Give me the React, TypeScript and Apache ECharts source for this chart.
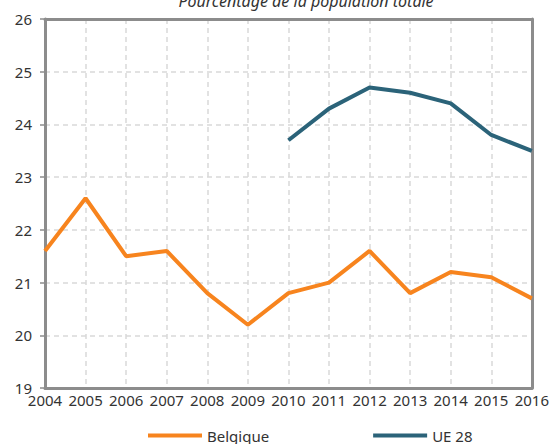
import React, { useEffect, useRef } from "react";
import * as echarts from "echarts";

const years = ["2004","2005","2006","2007","2008","2009","2010","2011","2012","2013","2014","2015","2016"];
const belgique = [21.6, 22.6, 21.5, 21.6, 20.8, 20.2, 20.8, 21.0, 21.6, 20.8, 21.2, 21.1, 20.7];
const ue28 = [null, null, null, null, null, null, 23.7, 24.3, 24.7, 24.6, 24.4, 23.8, 23.5];
const titleText = "Pourcentage de la population totale";
const FONT = "'Noto Sans', sans-serif";
const AXIS_GREY = "#8c8c8c";
const GRID_GREY = "#d9d9d9";

export default function App() {
  const ref = useRef<HTMLDivElement>(null);
  useEffect(() => {
    const chart = echarts.init(ref.current!, null, { renderer: "svg" });
    const split = { show: true, lineStyle: { color: GRID_GREY, type: [5, 4], width: 1.5 } };
    chart.setOption({
      animation: false,
      textStyle: { fontFamily: FONT },
      graphic: [
        {
          type: "text",
          x: 306,
          y: 1,
          style: {
            text: titleText,
            fontFamily: FONT,
            fontSize: 16,
            fontStyle: "italic",
            fill: "#333",
            textAlign: "center",
            textVerticalAlign: "middle",
          },
        },
      ],
      grid: {
        left: 45,
        right: 16,
        top: 19,
        bottom: 56,
        show: false,
        containLabel: false,
      },
      legend: {
        left: 148,
        top: 428,
        padding: 0,
        itemWidth: 54,
        itemHeight: 4,
        itemGap: 104,
        icon: "rect",
        textStyle: { fontFamily: FONT, fontSize: 15, color: "#333" },
        data: ["Belgique", "UE 28"],
      },
      xAxis: [
        {
          type: "category",
          data: years,
          boundaryGap: false,
          axisLine: { show: true, lineStyle: { color: AXIS_GREY, width: 3 } },
          axisTick: { show: false },
          axisLabel: { color: "#333", fontSize: 15, fontFamily: FONT, margin: 4, interval: 0 },
          splitLine: split,
        },
        {
          type: "category",
          data: years,
          position: "top",
          boundaryGap: false,
          axisLine: { show: true, lineStyle: { color: AXIS_GREY, width: 3 } },
          axisTick: { show: false },
          axisLabel: { show: false },
          splitLine: { show: false },
        },
      ],
      yAxis: [
        {
          type: "value",
          min: 19,
          max: 26,
          interval: 1,
          axisLine: { show: true, lineStyle: { color: AXIS_GREY, width: 3 } },
          axisTick: { show: true, length: 5, lineStyle: { color: AXIS_GREY, width: 1.5 } },
          axisLabel: { color: "#333", fontSize: 15, fontFamily: FONT, margin: 13 },
          splitLine: split,
        },
        {
          type: "value",
          min: 19,
          max: 26,
          interval: 1,
          position: "right",
          axisLine: { show: true, lineStyle: { color: AXIS_GREY, width: 3 } },
          axisTick: { show: false },
          axisLabel: { show: false },
          splitLine: { show: false },
        },
      ],
      series: [
        {
          name: "Belgique",
          type: "line",
          data: belgique,
          symbol: "none",
          color: "#F7841E",
          lineStyle: { width: 4, color: "#F7841E" },
        },
        {
          name: "UE 28",
          type: "line",
          data: ue28,
          symbol: "none",
          color: "#2B6379",
          lineStyle: { width: 4, color: "#2B6379" },
        },
      ],
    });
    return () => chart.dispose();
  }, []);
  return <div ref={ref} style={{ width: 552, height: 444, position: "absolute", left: 0, top: 0 }} />;
}
